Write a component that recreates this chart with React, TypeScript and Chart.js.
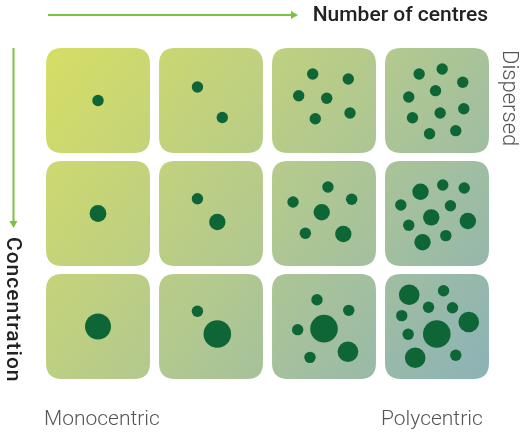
import React, { useEffect, useRef } from "react";
import { Chart, registerables } from "chart.js";

Chart.register(...registerables);

// Grid of panels: columns = number of centres, rows = concentration level
const columnLabels = ["1", "2", "6", "10"];
const rowLabels = ["Dispersed", "Medium", "Concentrated"];

// Dots per panel: [dx, dy, radius] — dx/dy are offsets from the panel centre, in panel units
const r0c0 = [[0, 0, 5.7]];
const r0c1 = [[-0.12, -0.12, 5.7], [0.1, 0.15, 5.7]];
const r0c2 = [[-0.1, -0.235, 5.7], [0.215, -0.19, 5.7], [-0.224, -0.042, 5.7], [0.024, -0.02, 5.7], [-0.077, 0.161, 5.7], [0.23, 0.11, 5.7]];
const r0c3 = [[-0.158, -0.235, 5.7], [0.046, -0.279, 5.7], [0.228, -0.161, 5.7], [-0.25, -0.031, 5.7], [-0.013, -0.087, 5.7], [-0.217, 0.152, 5.7], [0.028, 0.111, 5.7], [0.237, 0.073, 5.7], [-0.066, 0.294, 5.7], [0.166, 0.267, 5.7]];
const r1c0 = [[0, 0, 8.4]];
const r1c1 = [[-0.12, -0.13, 5.7], [0.056, 0.075, 8.2]];
const r1c2 = [[0.035, -0.235, 5.7], [-0.274, -0.102, 5.7], [0.245, -0.126, 5.7], [-0.02, -0.011, 8.2], [-0.165, 0.175, 5.7], [0.171, 0.181, 8.2]];
const r1c3 = [[-0.146, -0.193, 8.2], [0.051, -0.252, 5.7], [0.241, -0.226, 5.7], [-0.32, -0.075, 5.7], [0.119, -0.069, 5.7], [-0.051, 0.034, 8.2], [-0.25, 0.104, 5.7], [0.273, 0.066, 8.2], [-0.128, 0.255, 8.2], [0.078, 0.196, 5.7]];
const r2c0 = [[0, 0, 13]];
const r2c1 = [[-0.12, -0.135, 5.7], [0.056, 0.066, 13.8]];
const r2c2 = [[-0.062, -0.237, 5.7], [0.219, -0.143, 5.7], [-0.233, 0.028, 5.7], [0, 0.019, 13.8], [-0.124, 0.273, 5.7], [0.212, 0.223, 10.3]];
const r2c3 = [[-0.246, -0.281, 10.3], [0.058, -0.317, 5.7], [-0.075, -0.17, 5.7], [0.137, -0.166, 5.7], [-0.312, -0.096, 5.7], [0.281, -0.04, 10.3], [-0.002, 0.066, 13.8], [-0.255, 0.069, 5.7], [-0.193, 0.276, 10.3], [0.166, 0.255, 5.7]];

const panelDots = [
  [r0c0, r0c1, r0c2, r0c3],
  [r1c0, r1c1, r1c2, r1c3],
  [r2c0, r2c1, r2c2, r2c3],
];

const xAxisTitle = "Number of centres";
const yAxisTitle = "Concentration";
const cornerLabel = "Dispersed";
const bottomLeftLabel = "Monocentric";
const bottomRightLabel = "Polycentric";

const W = 529;
const H = 435;
const HALF_W = 0.46;
const HALF_H = 0.465;
const ARROW = "#7cc242";
const DOT = "#0e6636";

function roundRect(ctx: CanvasRenderingContext2D, x: number, y: number, w: number, h: number, r: number) {
  ctx.beginPath();
  ctx.moveTo(x + r, y);
  ctx.lineTo(x + w - r, y);
  ctx.quadraticCurveTo(x + w, y, x + w, y + r);
  ctx.lineTo(x + w, y + h - r);
  ctx.quadraticCurveTo(x + w, y + h, x + w - r, y + h);
  ctx.lineTo(x + r, y + h);
  ctx.quadraticCurveTo(x, y + h, x, y + h - r);
  ctx.lineTo(x, y + r);
  ctx.quadraticCurveTo(x, y, x + r, y);
  ctx.closePath();
}

const panelsPlugin = {
  id: "panels",
  beforeDatasetsDraw(chart: any) {
    const { ctx, scales } = chart;
    const xs = scales.x;
    const ys = scales.y;
    const nCols = columnLabels.length;
    const nRows = rowLabels.length;
    ctx.save();
    const gx0 = xs.getPixelForValue(-HALF_W);
    const gy0 = ys.getPixelForValue(-HALF_H);
    const gx1 = xs.getPixelForValue(nCols - 1 + HALF_W);
    const gy1 = ys.getPixelForValue(nRows - 1 + HALF_H);
    const g = ctx.createLinearGradient(gx0, gy0, gx1, gy1);
    g.addColorStop(0, "#d6de64");
    g.addColorStop(0.5, "#b3c98e");
    g.addColorStop(1, "#8cb2b6");
    ctx.fillStyle = g;
    for (let r = 0; r < nRows; r++) {
      for (let c = 0; c < nCols; c++) {
        const x0 = xs.getPixelForValue(c - HALF_W);
        const x1 = xs.getPixelForValue(c + HALF_W);
        const y0 = ys.getPixelForValue(r - HALF_H);
        const y1 = ys.getPixelForValue(r + HALF_H);
        roundRect(ctx, x0, y0, x1 - x0, y1 - y0, 16);
        ctx.fill();
      }
    }

    // arrows
    ctx.strokeStyle = ARROW;
    ctx.fillStyle = ARROW;
    ctx.lineWidth = 2;
    ctx.beginPath();
    ctx.moveTo(48, 15);
    ctx.lineTo(292, 15);
    ctx.stroke();
    ctx.beginPath();
    ctx.moveTo(298, 15);
    ctx.lineTo(291, 11);
    ctx.lineTo(291, 19);
    ctx.closePath();
    ctx.fill();
    ctx.beginPath();
    ctx.moveTo(13.5, 48);
    ctx.lineTo(13.5, 222);
    ctx.stroke();
    ctx.beginPath();
    ctx.moveTo(13.5, 228);
    ctx.lineTo(9.5, 221);
    ctx.lineTo(17.5, 221);
    ctx.closePath();
    ctx.fill();

    // texts
    ctx.fillStyle = "#222222";
    ctx.font = "500 21px Roboto";
    ctx.textAlign = "right";
    ctx.textBaseline = "alphabetic";
    ctx.fillText(xAxisTitle, 488, 21);

    ctx.save();
    ctx.translate(7, 237);
    ctx.rotate(Math.PI / 2);
    ctx.textAlign = "left";
    (ctx as any).letterSpacing = "1px";
    ctx.fillText(yAxisTitle, 0, 0);
    ctx.restore();

    ctx.fillStyle = "#555555";
    ctx.font = "300 22px Roboto";
    ctx.save();
    ctx.translate(503, 50);
    ctx.rotate(Math.PI / 2);
    ctx.textAlign = "left";
    ctx.fillText(cornerLabel, 0, 0);
    ctx.restore();

    ctx.font = "300 21px Roboto";
    ctx.textAlign = "left";
    ctx.fillText(bottomLeftLabel, 44, 425);
    ctx.fillText(bottomRightLabel, 381, 425);
    ctx.restore();
  },
};

export default function App() {
  const ref = useRef<HTMLCanvasElement | null>(null);

  useEffect(() => {
    if (!ref.current) return;
    const points: { x: number; y: number; r: number }[] = [];
    panelDots.forEach((row, ri) =>
      row.forEach((dots, ci) =>
        dots.forEach(([dx, dy, rad]) => points.push({ x: ci + dx, y: ri + dy, r: rad }))
      )
    );
    const chart = new Chart(ref.current, {
      type: "bubble",
      data: {
        datasets: [
          {
            data: points,
            backgroundColor: DOT,
            borderWidth: 0,
            hoverRadius: 0,
          } as any,
        ],
      },
      options: {
        responsive: false,
        animation: false,
        devicePixelRatio: 1,
        layout: { padding: 0, autoPadding: false },
        plugins: { legend: { display: false }, tooltip: { enabled: false } },
        events: [],
        scales: {
          x: { type: "linear", display: false, min: -98 / 113, max: (W - 98) / 113 },
          y: { type: "linear", display: false, reverse: true, min: -100.5 / 113, max: (H - 100.5) / 113 },
        },
      },
      plugins: [panelsPlugin],
    });
    return () => chart.destroy();
  }, []);

  return (
    <div style={{ position: "fixed", left: 0, top: 0, width: W, height: H, background: "#ffffff" }}>
      <canvas ref={ref} width={W} height={H} style={{ display: "block", width: W, height: H }} />
    </div>
  );
}
